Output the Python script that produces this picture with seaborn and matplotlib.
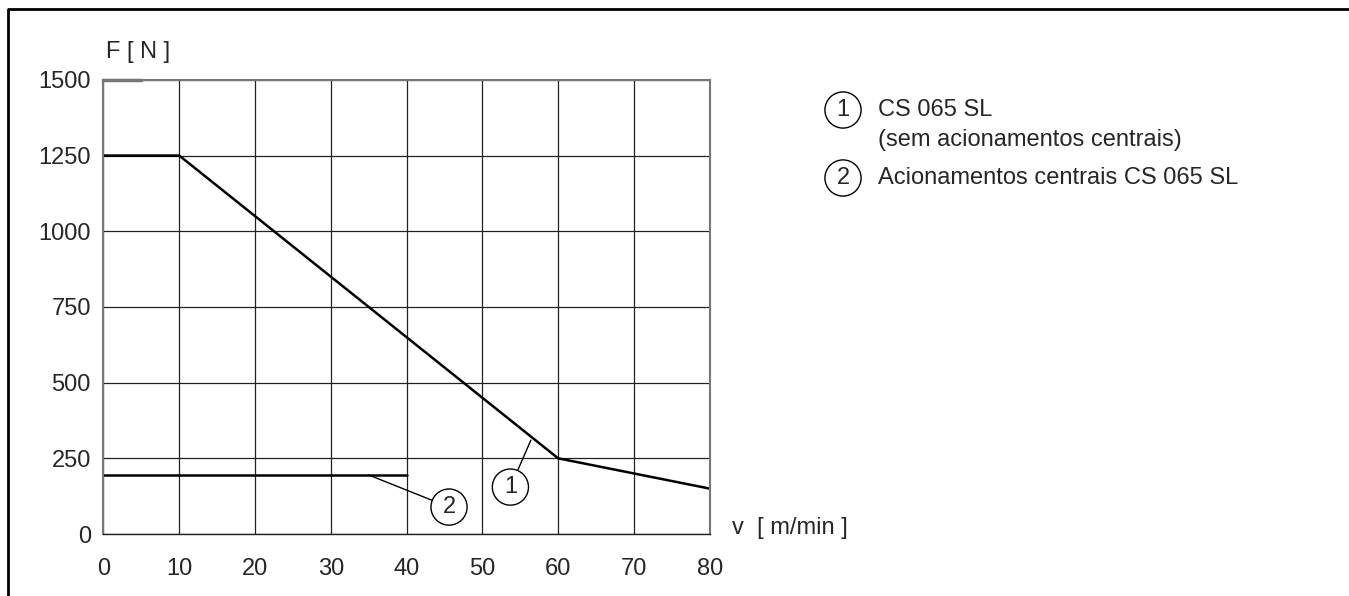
import numpy as np
import pandas as pd
import matplotlib.pyplot as plt
import seaborn as sns
from matplotlib.lines import Line2D

sns.set_style("white")
plt.rcParams['font.family'] = ['Liberation Sans', 'DejaVu Sans']

# curve data (v in m/min, F in N)
v_curve1 = [0, 10, 60, 80]
f_curve1 = [1250, 1250, 250, 150]
v_curve2 = [0, 40]
f_curve2 = [195, 195]

x_ticks = [0, 10, 20, 30, 40, 50, 60, 70, 80]
y_ticks = [0, 250, 500, 750, 1000, 1250, 1500]

legend_lines_1 = ["CS 065 SL", "(sem acionamentos centrais)"]
legend_line_2 = "Acionamentos centrais CS 065 SL"

FS = 17

df = pd.concat([
    pd.DataFrame({"v": v_curve1, "F": f_curve1, "curve": "1"}),
    pd.DataFrame({"v": v_curve2, "F": f_curve2, "curve": "2"}),
])

fig = plt.figure(figsize=(13.49, 5.96), dpi=100)
ax = fig.add_axes([0.0767, 0.104, 0.4494, 0.762])

sns.lineplot(data=df, x="v", y="F", units="curve", estimator=None, sort=False,
             color="black", linewidth=1.8, ax=ax, legend=False)

ax.set_xlim(0, 80)
ax.set_ylim(0, 1500)
ax.set_xticks(x_ticks)
ax.set_yticks(y_ticks)
ax.grid(True, color="#222222", linewidth=0.9)
ax.tick_params(axis="both", length=0, labelsize=FS)
ax.tick_params(axis="x", pad=17.5)
ax.tick_params(axis="y", pad=9)
for s in ax.spines.values():
    s.set_color("#777777")
    s.set_linewidth(1.5)
ax.spines["bottom"].set_color("#222222")
ax.spines["bottom"].set_linewidth(1)
ax.set_xlabel("")
ax.set_ylabel("")

# short mark at 1500
ax.axhline(1500, xmin=0, xmax=5 / 80, color="#777777", linewidth=2.5, clip_on=False)

# callouts
circ = dict(boxstyle="circle,pad=0.3", fc="white", ec="black", lw=1)
ax.annotate("1", xy=(56.4, 310), xytext=(53.7, 155), fontsize=FS, ha="center", va="center",
            bbox=circ, arrowprops=dict(arrowstyle="-", color="black", lw=1, shrinkA=0, shrinkB=0))
ax.annotate("2", xy=(35, 195), xytext=(45.6, 89), fontsize=FS, ha="center", va="center",
            bbox=circ, arrowprops=dict(arrowstyle="-", color="black", lw=1, shrinkA=0, shrinkB=0))

# axis labels
fig.text(106 / 1349, 1 - 52 / 596, "F [ N ]", fontsize=FS, ha="left", va="center")
fig.text(732 / 1349, 1 - 528 / 596, "v  [ m/min ]", fontsize=FS, ha="left", va="center")

# legend on the right
fig.text(843 / 1349, 1 - 110 / 596, "1", fontsize=FS, ha="center", va="center", bbox=circ)
fig.text(878 / 1349, 1 - 110 / 596, legend_lines_1[0], fontsize=FS, ha="left", va="center")
fig.text(878 / 1349, 1 - 140 / 596, legend_lines_1[1], fontsize=FS, ha="left", va="center")
fig.text(843 / 1349, 1 - 178 / 596, "2", fontsize=FS, ha="center", va="center", bbox=circ)
fig.text(878 / 1349, 1 - 178 / 596, legend_line_2, fontsize=FS, ha="left", va="center")

# page frame (top and left)
fig.add_artist(Line2D([8 / 1349, 8 / 1349, 1], [0, 1 - 9 / 596, 1 - 9 / 596],
                      color="black", linewidth=2, transform=fig.transFigure))

fig.savefig("out.png", dpi=100)
